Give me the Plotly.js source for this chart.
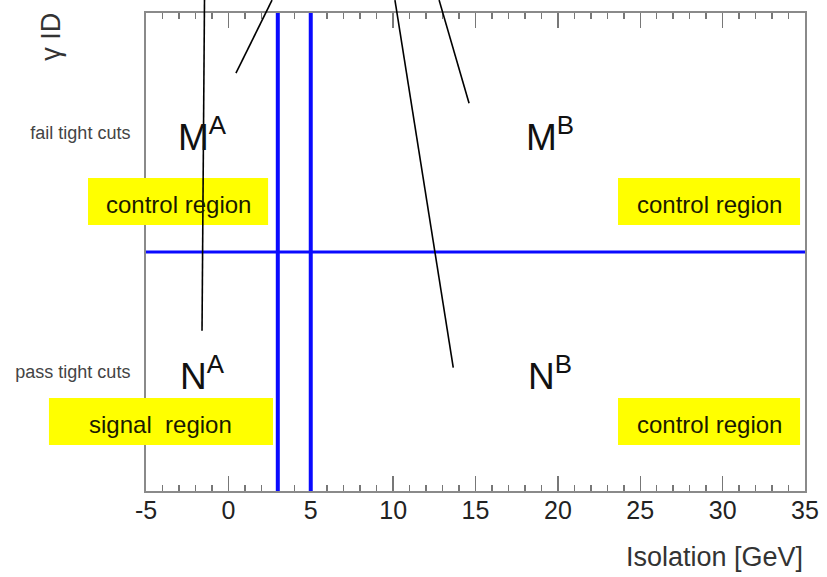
<!DOCTYPE html>
<html>
<head>
<meta charset="utf-8">
<script src="https://cdn.plot.ly/plotly-3.0.1.min.js"></script>
<style>html,body{margin:0;padding:0;background:#fff;}#chart{width:827px;height:577px;}</style>
</head>
<body>
<div id="chart"></div>
<script>
// ---- data ----
const xRange = [-5, 35];
const yRange = [0, 2];
const xTickVals = [-5, 0, 5, 10, 15, 20, 25, 30, 35];
const xTickText = ['-5', '0', '5', '10', '15', '20', '25', '30', '35'];
const cutX = [3, 5];
const cutY = [1];
const yTickVals = [0.5, 1.5];
const yTickText = ['pass tight cuts', 'fail tight cuts'];
const regionLabels = ['M<sup>A</sup>', 'M<sup>B</sup>', 'N<sup>A</sup>', 'N<sup>B</sup>'];
const regionLabelX = [-1.6, 19.5, -1.6, 19.5];
const regionLabelY = [1.49, 1.49, 0.49, 0.49];
const boxText = ['control region', 'control region', 'signal\u00a0 region', 'control region'];
const boxX0 = [-8.52, 23.65, -10.89, 23.65];
const boxX1 = [2.41, 34.70, 2.71, 34.70];
const boxY0 = [1.113, 1.113, 0.192, 0.192];
const boxY1 = [1.310, 1.310, 0.389, 0.389];
const lineX0 = [-1.45, 2.65, 10.11, 12.79];
const lineY0 = [2.054, 2.054, 2.054, 2.054];
const lineX1 = [-1.60, 0.46, 13.65, 14.61];
const lineY1 = [0.671, 1.748, 0.516, 1.622];
const xTitle = 'Isolation [GeV]';
const yTitle = '\u03b3 ID';

const FONT = 'Liberation Sans, Arial, sans-serif';
const toPaperX = v => (v - xRange[0]) / (xRange[1] - xRange[0]);
const toPaperY = v => (v - yRange[0]) / (yRange[1] - yRange[0]);

const shapes = [];
// yellow boxes
for (let i = 0; i < boxText.length; i++) {
  shapes.push({type: 'rect', xref: 'paper', yref: 'y', layer: 'above',
    x0: toPaperX(boxX0[i]), x1: toPaperX(boxX1[i]), y0: boxY0[i], y1: boxY1[i],
    fillcolor: '#ffff00', line: {width: 0}});
}
// blue cut lines
cutX.forEach(v => shapes.push({type: 'line', xref: 'x', yref: 'paper', layer: 'above',
  x0: v, x1: v, y0: 0, y1: 1, line: {color: '#0a0aff', width: 4}}));
cutY.forEach(v => shapes.push({type: 'line', xref: 'paper', yref: 'y', layer: 'above',
  x0: 0, x1: 1, y0: v, y1: v, line: {color: '#0a0aff', width: 3}}));
// black pointer lines
for (let i = 0; i < lineX0.length; i++) {
  shapes.push({type: 'line', xref: 'x', yref: 'paper', layer: 'above',
    x0: lineX0[i], x1: lineX1[i], y0: toPaperY(lineY0[i]), y1: toPaperY(lineY1[i]),
    line: {color: '#000', width: 1.6}});
}

const annotations = [];
for (let i = 0; i < regionLabels.length; i++) {
  annotations.push({xref: 'x', yref: 'y', x: regionLabelX[i], y: regionLabelY[i],
    text: regionLabels[i], showarrow: false, xanchor: 'center', yanchor: 'middle',
    font: {family: FONT, size: 37, color: '#111'}});
}
for (let i = 0; i < boxText.length; i++) {
  annotations.push({xref: 'paper', yref: 'y',
    x: toPaperX((boxX0[i] + boxX1[i]) / 2), y: (boxY0[i] + boxY1[i]) / 2 - 0.012,
    text: boxText[i], showarrow: false, xanchor: 'center', yanchor: 'middle',
    font: {family: FONT, size: 24, color: '#1a1a00'}});
}
annotations.push({xref: 'paper', yref: 'paper', x: 1, y: -0.138, xanchor: 'right', yanchor: 'middle',
  text: xTitle, showarrow: false, font: {family: FONT, size: 27, color: '#333'}});
annotations.push({xref: 'paper', yref: 'paper', x: -0.1445, y: 0.95, xanchor: 'center', yanchor: 'middle',
  text: yTitle, textangle: -90, showarrow: false, font: {family: FONT, size: 27, color: '#333'}});

const layout = {
  width: 827, height: 577,
  margin: {l: 146, r: 22, t: 13, b: 86},
  paper_bgcolor: '#fff', plot_bgcolor: '#fff',
  showlegend: false,
  xaxis: {range: xRange, showgrid: false, zeroline: false,
    showline: true, linecolor: '#8a8a8a', linewidth: 2, mirror: 'ticks',
    ticks: 'inside', tickmode: 'array', tickvals: xTickVals, ticktext: xTickText,
    ticklen: 15, tickwidth: 1.5, tickcolor: '#777', ticklabelstandoff: -4,
    minor: {tickmode: 'linear', tick0: 0, dtick: 1, ticks: 'inside', ticklen: 6, tickwidth: 1.5, tickcolor: '#777', showgrid: false},
    tickfont: {family: FONT, size: 25, color: '#222'}, fixedrange: true},
  yaxis: {range: yRange, showgrid: false, zeroline: false,
    showline: true, linecolor: '#8a8a8a', linewidth: 2, mirror: true,
    ticks: '', tickvals: yTickVals, ticktext: yTickText, ticklabelstandoff: 10,
    tickfont: {family: FONT, size: 18, color: '#444'}, fixedrange: true},
  shapes: shapes,
  annotations: annotations
};

Plotly.newPlot('chart', [{x: [], y: [], type: 'scatter', mode: 'lines', hoverinfo: 'skip'}], layout, {displayModeBar: false, staticPlot: true});
</script>
</body>
</html>
